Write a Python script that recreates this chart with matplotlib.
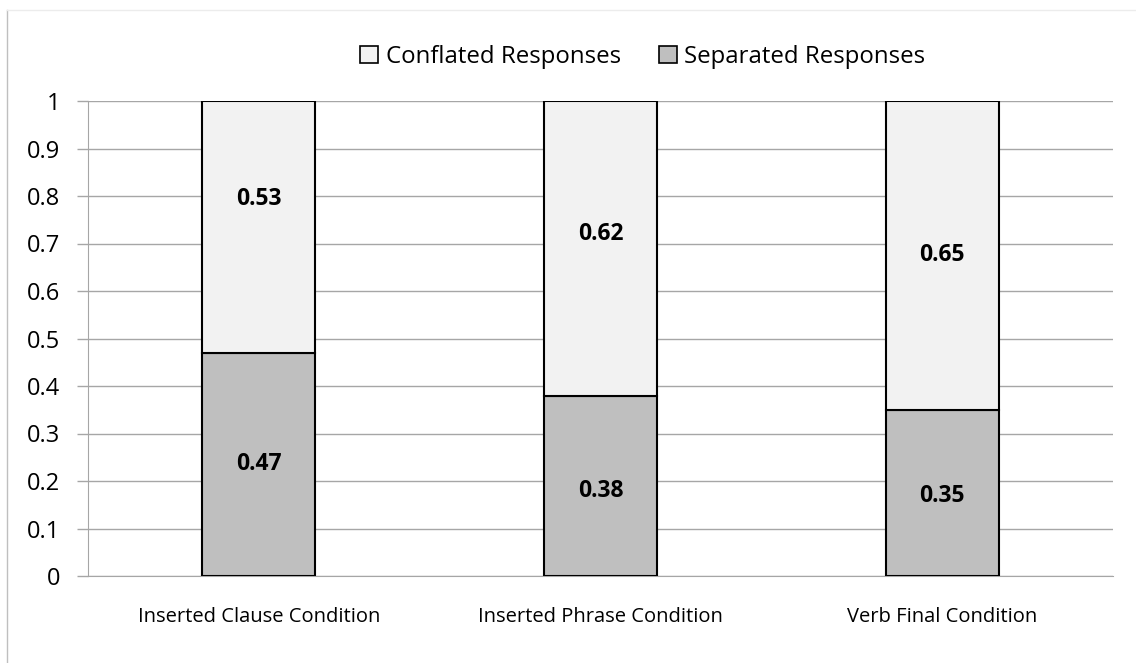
import matplotlib
matplotlib.use("Agg")
import matplotlib.pyplot as plt
from matplotlib.patches import Patch
from matplotlib.lines import Line2D

categories = ["Inserted Clause Condition", "Inserted Phrase Condition", "Verb Final Condition"]
separated = [0.47, 0.38, 0.35]
conflated = [0.53, 0.62, 0.65]
yticks = [0, 0.1, 0.2, 0.3, 0.4, 0.5, 0.6, 0.7, 0.8, 0.9, 1]
ytick_labels = ["0", "0.1", "0.2", "0.3", "0.4", "0.5", "0.6", "0.7", "0.8", "0.9", "1"]

plt.rcParams['font.family'] = ['Open Sans', 'DejaVu Sans']

W, H = 1136, 663
fig = plt.figure(figsize=(W / 100, H / 100), dpi=100)
ax = fig.add_axes([88 / W, 1 - 576 / H, (1113 - 88) / W, (576 - 101) / H])

x = list(range(len(categories)))
sep_color = "#bfbfbf"
conf_color = "#f2f2f2"
ax.bar(x, separated, width=0.33, color=sep_color, edgecolor="black", linewidth=1.5, zorder=3)
ax.bar(x, conflated, width=0.33, bottom=separated, color=conf_color, edgecolor="black", linewidth=1.5, zorder=3)

# label offsets in pixels (Excel label placement, style only)
sep_offsets = [0, -5, -3]
conf_offsets = [28, 14, 0]
for i in x:
    ax.annotate(f"{separated[i]:.2f}", (i, separated[i] / 2), xytext=(0, sep_offsets[i] * 0.72),
                textcoords="offset points", ha="center", va="center",
                fontsize=16.5, fontweight="bold", color="black", zorder=4)
    ax.annotate(f"{conflated[i]:.2f}", (i, separated[i] + conflated[i] / 2), xytext=(0, conf_offsets[i] * 0.72),
                textcoords="offset points", ha="center", va="center",
                fontsize=16.5, fontweight="bold", color="black", zorder=4)

ax.set_xlim(-0.5, len(categories) - 0.5)
ax.set_ylim(0, 1)
ax.set_yticks(yticks)
ax.set_yticklabels(ytick_labels, fontsize=17)
ax.set_xticks(x)
ax.set_xticklabels(categories, fontsize=14.5)
ax.tick_params(axis="x", length=0, pad=22)
ax.tick_params(axis="y", length=8, width=1, color="#a6a6a6", pad=12)
ax.yaxis.grid(True, color="#a6a6a6", linewidth=1, zorder=0)
ax.set_axisbelow(True)
for s in ["top", "right"]:
    ax.spines[s].set_visible(False)
ax.spines["left"].set_color("#a6a6a6")
ax.spines["bottom"].set_color("#a6a6a6")

handles = [Patch(facecolor=conf_color, edgecolor="black", linewidth=1.2, label="Conflated Responses"),
           Patch(facecolor=sep_color, edgecolor="black", linewidth=1.2, label="Separated Responses")]
fig.legend(handles=handles, loc="center", bbox_to_anchor=(643 / W, 1 - 57 / H), ncol=2,
           frameon=False, fontsize=17.3, handlelength=0.75, handleheight=0.75,
           handletextpad=0.3, columnspacing=1.6)

# chart frame (partly visible)
fig.add_artist(Line2D([7 / W, 7 / W], [0, 1 - 10 / H], transform=fig.transFigure, color="#bfbfbf", linewidth=1))
fig.add_artist(Line2D([7 / W, 1], [1 - 10 / H, 1 - 10 / H], transform=fig.transFigure, color="#ececec", linewidth=1))

fig.savefig("out.png", dpi=100, facecolor="white")
